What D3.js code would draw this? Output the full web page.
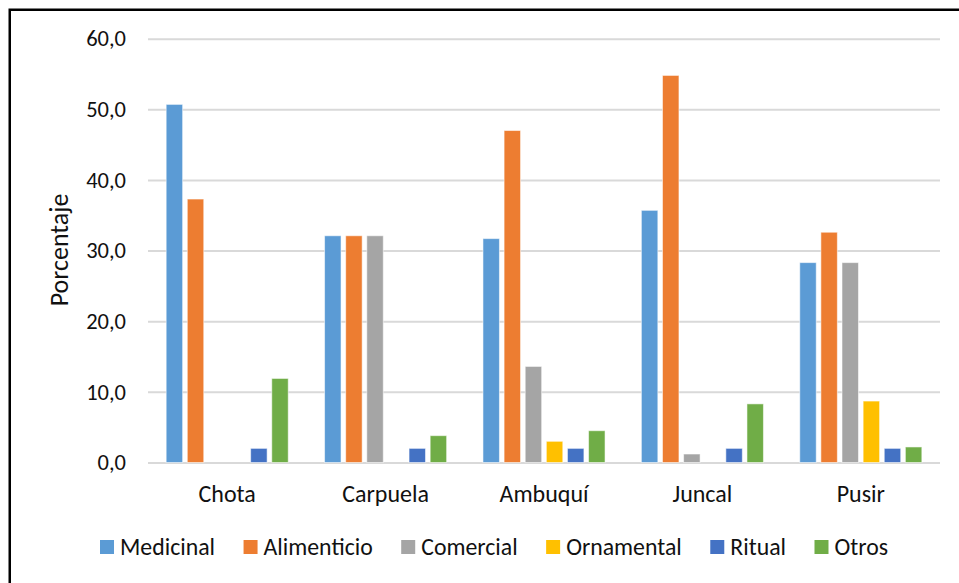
<!DOCTYPE html>
<html>
<head>
<meta charset="utf-8">
<script src="https://cdn.jsdelivr.net/npm/d3@7"></script>
<style>
  html, body { margin: 0; padding: 0; background: #fff; }
  svg { display: block; }
  text { font-family: Carlito, Calibri, Lato, sans-serif; fill: #111; }
</style>
</head>
<body>
<svg id="chart" width="959" height="583"></svg>
<script>
// Sitios (categorías del eje X)
const categories = ["Chota", "Carpuela", "Ambuquí", "Juncal", "Pusir"];

// Usos y sus colores
const seriesNames = ["Medicinal", "Alimenticio", "Comercial", "Ornamental", "Ritual", "Otros"];
const seriesColors = ["#5B9BD5", "#ED7D31", "#A5A5A5", "#FFC000", "#4472C4", "#70AD47"];

// Porcentaje por uso, en el orden de categories
const medicinal   = [50.7, 32.1, 31.7, 35.7, 28.3];
const alimenticio = [37.3, 32.1, 47.0, 54.8, 32.6];
const comercial   = [0.0, 32.1, 13.6, 1.2, 28.3];
const ornamental  = [0.0, 0.0, 3.0, 0.0, 8.7];
const ritual      = [2.0, 2.0, 2.0, 2.0, 2.0];
const otros       = [11.9, 3.8, 4.5, 8.3, 2.2];

// Marcas del eje Y
const yTicks = [0, 10, 20, 30, 40, 50, 60];

const seriesValues = [medicinal, alimenticio, comercial, ornamental, ritual, otros];

const svg = d3.select("#chart");
const fmt = v => d3.format(".1f")(v).replace(".", ",");

// Plot area
const plot = { left: 148, right: 940, top: 38.7, bottom: 462.5 };

const x0 = d3.scaleBand().domain(categories).range([plot.left, plot.right]);
const x1 = d3.scaleBand().domain(seriesNames)
  .range([0, x0.bandwidth()]).paddingInner(0.22).paddingOuter(0.86);
const y = d3.scaleLinear().domain([0, 60]).range([plot.bottom, plot.top]);

// Chart frame
svg.append("rect")
  .attr("x", 9.75).attr("y", 9.75)
  .attr("width", 1100).attr("height", 1100)
  .attr("fill", "none").attr("stroke", "#000").attr("stroke-width", 2.5);

// Gridlines
const yAxis = d3.axisLeft(y).tickValues(yTicks).tickFormat(fmt)
  .tickSize(-(plot.right - plot.left)).tickPadding(22);
const gy = svg.append("g").attr("transform", `translate(${plot.left},0)`).call(yAxis);
gy.select(".domain").remove();
gy.selectAll(".tick line").attr("stroke", "#D9D9D9").attr("stroke-width", 2);
gy.selectAll(".tick text")
  .attr("font-size", 22.5).attr("fill", "#111")
  .style("font-family", "Carlito, Calibri, Lato, sans-serif");

// Bars
const groups = svg.append("g").selectAll("g")
  .data(categories)
  .join("g")
  .attr("transform", d => `translate(${x0(d)},0)`);

groups.selectAll("rect")
  .data((c, ci) => seriesNames.map((s, si) => ({ s, si, v: seriesValues[si][ci] })))
  .join("rect")
  .filter(d => d.v > 0)
  .attr("x", d => x1(d.s))
  .attr("y", d => y(d.v))
  .attr("width", x1.bandwidth())
  .attr("height", d => y(0) - y(d.v))
  .attr("fill", d => seriesColors[d.si])
  .attr("stroke", "#fff").attr("stroke-opacity", 0.55).attr("stroke-width", 1);

// X axis labels
const xAxis = d3.axisBottom(x0).tickSize(0).tickPadding(22);
const gx = svg.append("g").attr("transform", `translate(0,${plot.bottom})`).call(xAxis);
gx.select(".domain").remove();
gx.selectAll(".tick text")
  .attr("font-size", 24).attr("fill", "#111")
  .style("font-family", "Carlito, Calibri, Lato, sans-serif");

// Y axis title
svg.append("text")
  .attr("transform", "translate(68,250) rotate(-90)")
  .attr("text-anchor", "middle")
  .attr("font-size", 26)
  .text("Porcentaje");

// Legend, centred as one row
const legend = svg.append("g").attr("transform", "translate(0,547)");
const items = legend.selectAll("g").data(seriesNames).join("g");
items.append("rect")
  .attr("y", -7).attr("width", 14).attr("height", 14)
  .attr("fill", (d, i) => seriesColors[i]);
items.append("text")
  .attr("x", 20).attr("dy", "0.35em")
  .attr("font-size", 23.8)
  .text(d => d);

const gap = 28.5;
let cursor = 0;
const offsets = [];
items.each(function () {
  const w = 20 + d3.select(this).select("text").node().getComputedTextLength();
  offsets.push(cursor);
  cursor += w + gap;
});
const total = cursor - gap;
const start = 494 - total / 2;
items.attr("transform", (d, i) => `translate(${start + offsets[i]},0)`);
</script>
</body>
</html>
